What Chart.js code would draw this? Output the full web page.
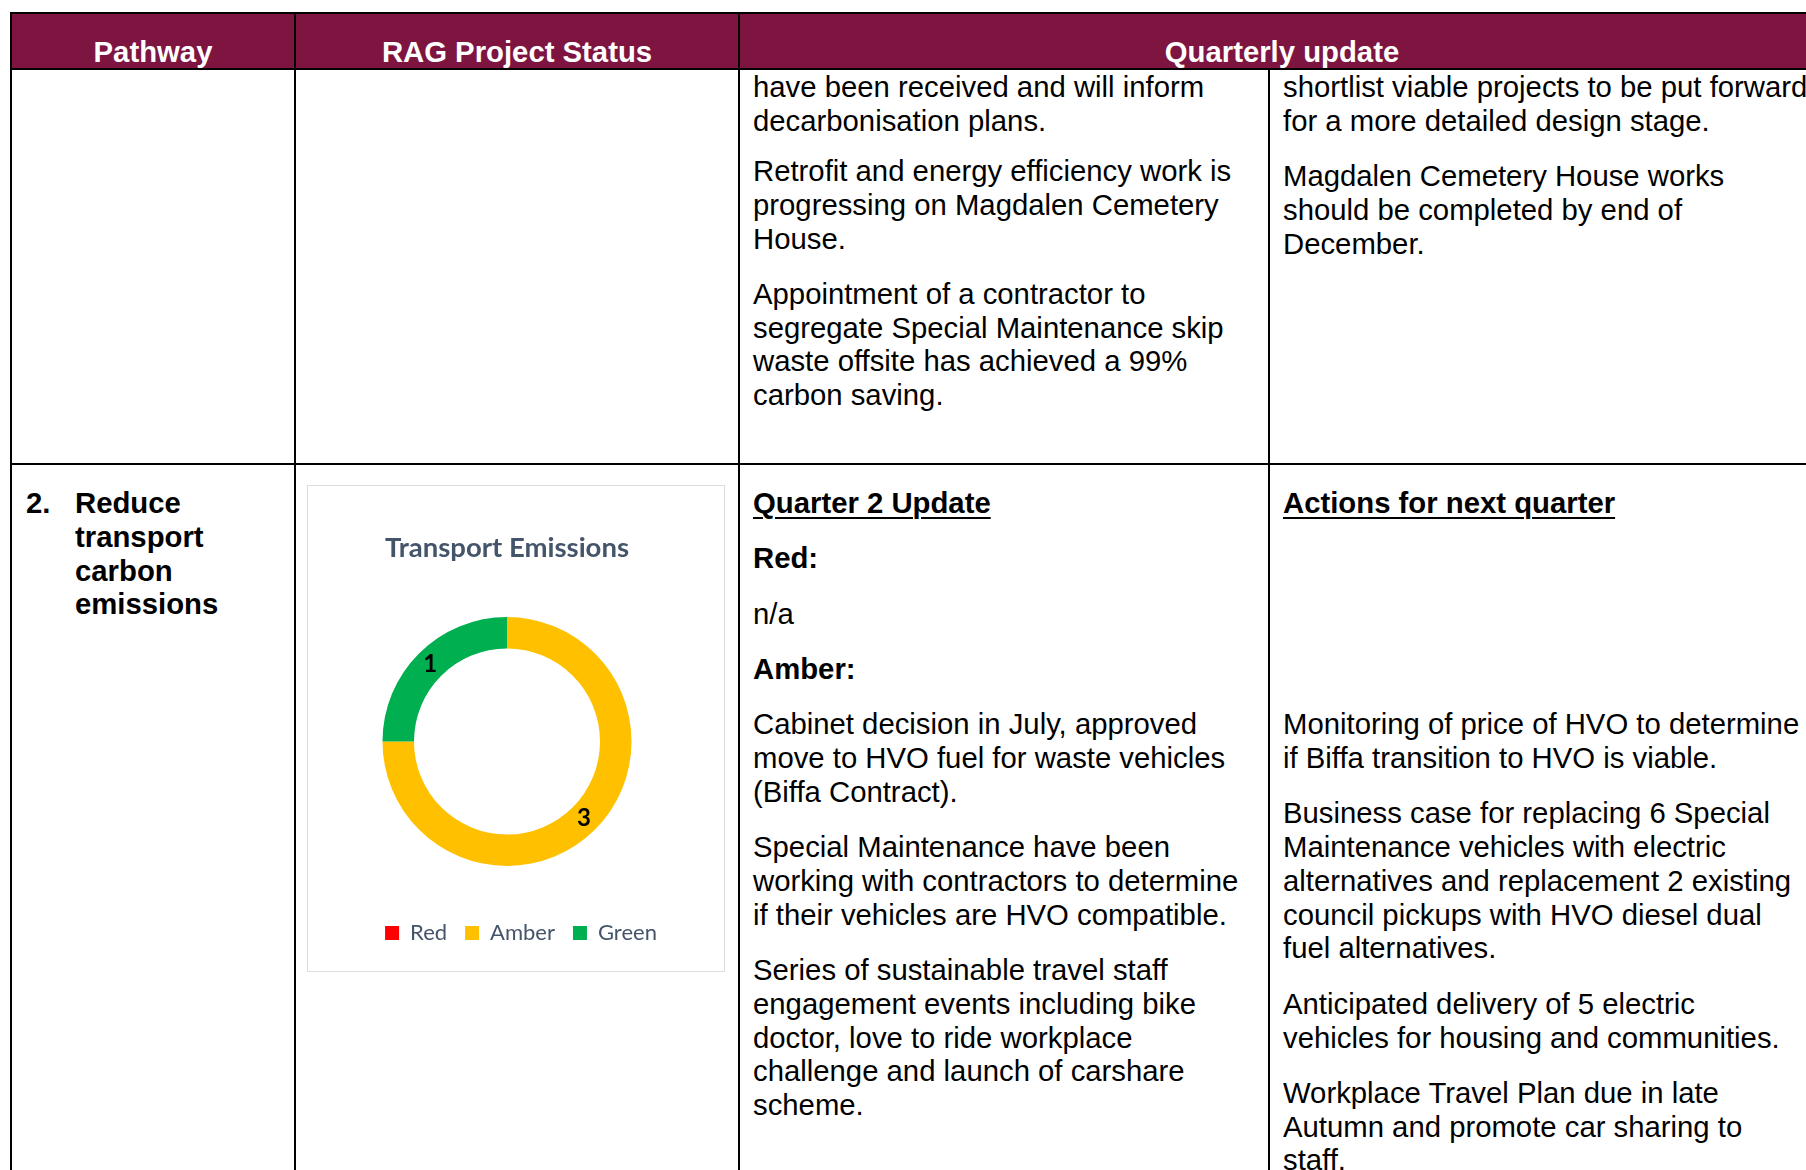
<!DOCTYPE html>
<html>
<head>
<meta charset="utf-8">
<script src="https://cdn.jsdelivr.net/npm/chart.js@4"></script>
<style>
  html, body { margin: 0; padding: 0; background: #fff; }
  body { width: 1806px; height: 1170px; overflow: hidden; position: relative;
         font-family: 'Liberation Sans', Arial, sans-serif; font-size: 29.3px; line-height: 33.75px; color: #000; }
  .line { position: absolute; background: #000; }
  .head { position: absolute; left: 12px; top: 14px; width: 1820px; height: 54px; background: #7e1541; }
  .htxt { position: absolute; top: 35px; color: #fff; font-weight: bold; text-align: center; white-space: nowrap; }
  .cell { position: absolute; white-space: nowrap; }
  .cell p { margin: 0 0 21.6px 0; }
  .b { font-weight: bold; }
  .u { text-decoration: underline; text-decoration-thickness: 2px; text-underline-offset: 4px; }
  #chartBox { position: absolute; left: 307px; top: 485px; width: 416px; height: 485px;
              border: 1.5px solid #d9dde4; background: #fff; }
</style>
</head>
<body>

<div class="head"></div>
<div class="htxt" style="left:12px;width:282px;">Pathway</div>
<div class="htxt" style="left:296px;width:442px;">RAG Project Status</div>
<div class="htxt" style="left:740px;width:1084px;">Quarterly update</div>

<!-- table rules -->
<div class="line" style="left:10px;top:12px;width:1830px;height:2px;"></div>
<div class="line" style="left:10px;top:68px;width:1830px;height:2px;"></div>
<div class="line" style="left:10px;top:463px;width:1830px;height:2px;"></div>
<div class="line" style="left:10px;top:12px;width:2px;height:1170px;"></div>
<div class="line" style="left:294px;top:12px;width:2px;height:1170px;"></div>
<div class="line" style="left:738px;top:12px;width:2px;height:1170px;"></div>
<div class="line" style="left:1268px;top:68px;width:2px;height:1170px;"></div>

<!-- row 1 -->
<div class="cell" style="left:753px;top:70px;">
  <p style="margin-bottom:16.5px;">have been received and will inform<br>decarbonisation plans.</p>
  <p>Retrofit and energy efficiency work is<br>progressing on Magdalen Cemetery<br>House.</p>
  <p>Appointment of a contractor to<br>segregate Special Maintenance skip<br>waste offsite has achieved a 99%<br>carbon saving.</p>
</div>
<div class="cell" style="left:1283px;top:70px;">
  <p>shortlist viable projects to be put forward<br>for a more detailed design stage.</p>
  <p>Magdalen Cemetery House works<br>should be completed by end of<br>December.</p>
</div>

<!-- row 2 -->
<div class="cell b" style="left:26px;top:486px;">2.</div>
<div class="cell b" style="left:75px;top:486px;">Reduce<br>transport<br>carbon<br>emissions</div>

<div id="chartBox"><canvas id="ragChart"></canvas></div>

<div class="cell" style="left:753px;top:486px;">
  <p class="b u">Quarter 2 Update</p>
  <p class="b">Red:</p>
  <p>n/a</p>
  <p class="b">Amber:</p>
  <p>Cabinet decision in July, approved<br>move to HVO fuel for waste vehicles<br>(Biffa Contract).</p>
  <p>Special Maintenance have been<br>working with contractors to determine<br>if their vehicles are HVO compatible.</p>
  <p>Series of sustainable travel staff<br>engagement events including bike<br>doctor, love to ride workplace<br>challenge and launch of carshare<br>scheme.</p>
</div>
<div class="cell" style="left:1283px;top:486px;">
  <p class="b u">Actions for next quarter</p>
  <p>&nbsp;</p>
  <p>&nbsp;</p>
  <p>&nbsp;</p>
  <p>Monitoring of price of HVO to determine<br>if Biffa transition to HVO is viable.</p>
  <p>Business case for replacing 6 Special<br>Maintenance vehicles with electric<br>alternatives and replacement 2 existing<br>council pickups with HVO diesel dual<br>fuel alternatives.</p>
  <p>Anticipated delivery of 5 electric<br>vehicles for housing and communities.</p>
  <p>Workplace Travel Plan due in late<br>Autumn and promote car sharing to<br>staff.</p>
</div>

<script>
'use strict';

let chartTitle = 'Transport Emissions';
let ragLabels = ['Red', 'Amber', 'Green'];
let ragCounts = [0, 3, 1];
let ragColours = ['#ff0000', '#ffc000', '#00b050'];

let canvasElem = document.getElementById('ragChart');

// writes the count in the middle of each ring segment
let segmentLabels = {
  id: 'segmentLabels',
  afterDatasetsDraw(chart) {
    let ctx = chart.ctx;
    let meta = chart.getDatasetMeta(0);
    ctx.save();
    ctx.font = 'bold 24px Lato';
    ctx.fillStyle = '#000';
    ctx.textAlign = 'center';
    ctx.textBaseline = 'middle';
    for (let i = 0; i < meta.data.length; i++) {
      if (!ragCounts[i]) continue;
      let pos = meta.data[i].tooltipPosition();
      ctx.fillText(String(ragCounts[i]), pos.x, pos.y);
    }
    ctx.restore();
  }
};

// legend in the original sits a little right of the ring
let legendNudge = {
  id: 'legendNudge',
  afterLayout(chart) {
    chart.legend.left += 14;
    chart.legend.right += 14;
    chart.legend.top += 1;
    chart.legend.bottom += 1;
  }
};

let myObj = {
  type: 'doughnut',
  data: {
    labels: ragLabels,
    datasets: [{
      data: ragCounts,
      backgroundColor: ragColours,
      borderWidth: 0,
      hoverOffset: 0
    }]
  },
  options: {
    responsive: true,
    maintainAspectRatio: false,
    animation: false,
    radius: 124.5,
    cutout: '74.7%',
    layout: { padding: { top: 0, bottom: 18, left: 0, right: 18 } },
    plugins: {
      title: {
        display: true,
        text: chartTitle,
        color: '#44546a',
        font: { family: 'Lato', size: 27.5, weight: 'bold' },
        padding: { top: 46, bottom: 15 }
      },
      legend: {
        position: 'bottom',
        labels: {
          boxWidth: 14,
          boxHeight: 14,
          padding: 18,
          color: '#44546a',
          font: { family: 'Lato', size: 22 }
        }
      },
      tooltip: { enabled: false }
    }
  },
  plugins: [segmentLabels, legendNudge]
};

new Chart(canvasElem, myObj);
</script>
</body>
</html>
